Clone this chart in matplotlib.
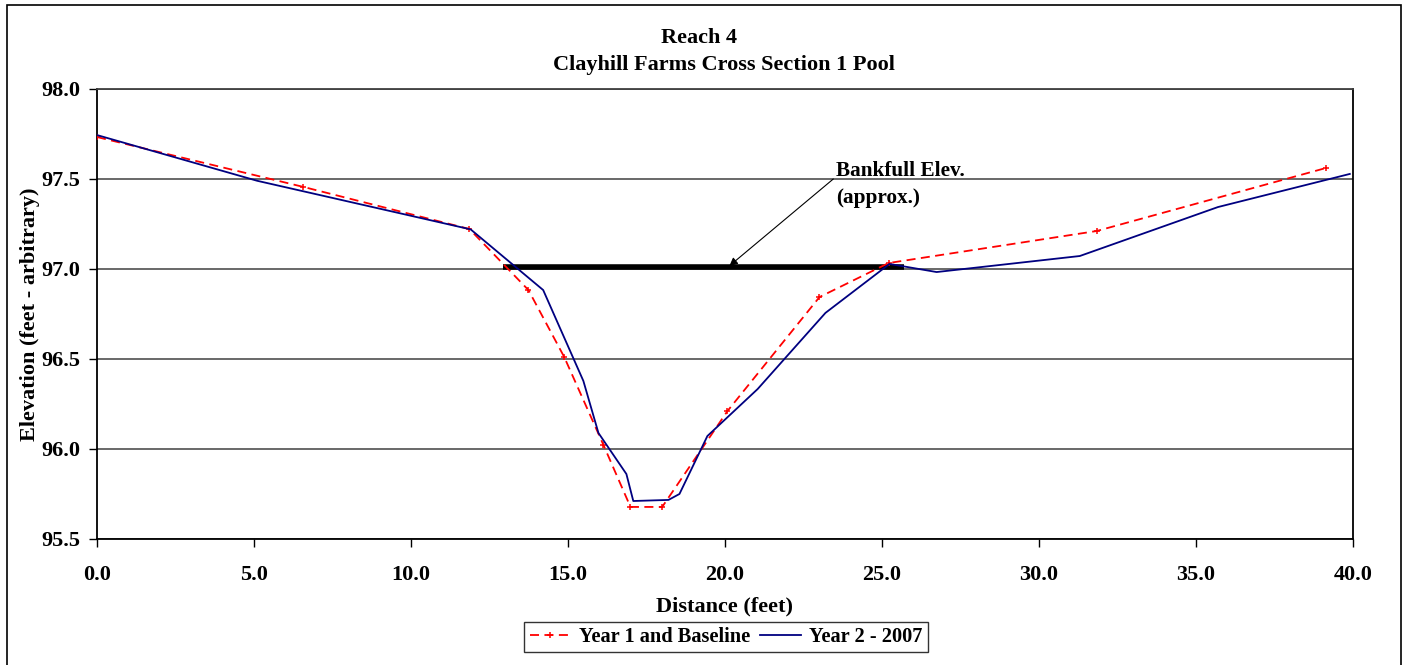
import matplotlib
matplotlib.use("Agg")
import matplotlib.pyplot as plt
from matplotlib.patches import Rectangle

plt.rcParams['font.family'] = ['Liberation Serif', 'DejaVu Serif']
plt.rcParams['font.weight'] = 'bold'

# Year 1 and Baseline survey
y1_dist = [0.0, 6.57, 11.86, 13.74, 14.88, 16.13, 16.99, 18.0, 20.08, 23.01, 25.21, 31.84, 39.14]
y1_elev = [97.733, 97.456, 97.222, 96.883, 96.511, 96.022, 95.678, 95.678, 96.211, 96.844, 97.033, 97.211, 97.561]

# Year 2 - 2007 survey
y2_dist = [0.0, 5.1, 11.9, 14.21, 15.49, 15.97, 16.86, 17.08, 18.2, 18.55, 19.44, 21.04, 23.2, 25.24, 26.74, 31.3, 35.7, 39.9]
y2_elev = [97.744, 97.49, 97.22, 96.883, 96.378, 96.089, 95.861, 95.711, 95.717, 95.75, 96.072, 96.333, 96.756, 97.028, 96.983, 97.072, 97.344, 97.528]

# bankfull line
bkf_dist = [12.94, 25.69]
bkf_elev = [97.01, 97.01]

xticks = [0, 5, 10, 15, 20, 25, 30, 35, 40]
yticks = [95.5, 96.0, 96.5, 97.0, 97.5, 98.0]

FS = 16

fig = plt.figure(figsize=(14.08, 6.65), dpi=100)
ax = fig.add_axes([0.0689, 0.1895, 0.892, 0.6767])

for yv in yticks:
    ax.axhline(yv, color='#404040', lw=1.1, zorder=1)

ax.plot(bkf_dist, bkf_elev, color='black', lw=4, solid_capstyle='butt', zorder=2)
ax.plot(y1_dist, y1_elev, color='red', ls=(0, (5, 3)), lw=1.3, marker='+',
        ms=4, mew=1.1, label='Year 1 and Baseline', zorder=3)
ax.plot(y2_dist, y2_elev, color='#000080', lw=1.3, label='Year 2 - 2007', zorder=3)

ax.annotate('', xy=(20.14, 97.017), xytext=(23.45, 97.50),
            arrowprops=dict(arrowstyle='-|>', lw=0.8, color='black', mutation_scale=12,
                            shrinkA=0, shrinkB=0))
ax.text(23.55, 97.468, 'Bankfull Elev.\n(approx.)', ha='left', va='center',
        fontsize=15.3, fontweight='bold', linespacing=1.45)

ax.set_xlim(0, 40)
ax.set_ylim(95.5, 98.0)
ax.set_xticks(xticks)
ax.set_yticks(yticks)
ax.set_xticklabels(['%.1f' % v for v in xticks])
ax.set_yticklabels(['%.1f' % v for v in yticks])
ax.tick_params(direction='out', length=6, width=1, labelsize=FS)
ax.tick_params(axis='x', pad=13)
ax.tick_params(axis='y', pad=6)
for lab in ax.get_xticklabels() + ax.get_yticklabels():
    lab.set_fontweight('bold')
for sp in ax.spines.values():
    sp.set_linewidth(1.3)
ax.spines['top'].set_color('#404040')

ax.set_xlabel('Distance (feet)', fontsize=FS, fontweight='bold', labelpad=8)
ax.set_ylabel('Elevation (feet - arbitrary)', fontsize=FS, fontweight='bold', labelpad=1)

fig.text(0.4965, 1 - 38 / 665, 'Reach 4', ha='center', va='center', fontsize=FS, fontweight='bold')
fig.text(0.5142, 1 - 65 / 665, 'Clayhill Farms Cross Section 1 Pool', ha='center', va='center',
         fontsize=FS, fontweight='bold')

leg = fig.legend(loc='center', bbox_to_anchor=(726 / 1408, 1 - 637 / 665), ncol=2,
                 frameon=True, fancybox=False, edgecolor='black', fontsize=14.7,
                 handlelength=2.0, columnspacing=0.5, handletextpad=0.4,
                 borderpad=0.25, borderaxespad=0)
leg.get_frame().set_linewidth(1.0)
for t in leg.get_texts():
    t.set_fontweight('bold')

fig.patches.append(Rectangle((7 / 1408, -0.05), (1401 - 7) / 1408, 1 - 5 / 665 + 0.05,
                             transform=fig.transFigure, fill=False, edgecolor='black', lw=1.2))

fig.savefig('out.png', dpi=100)
